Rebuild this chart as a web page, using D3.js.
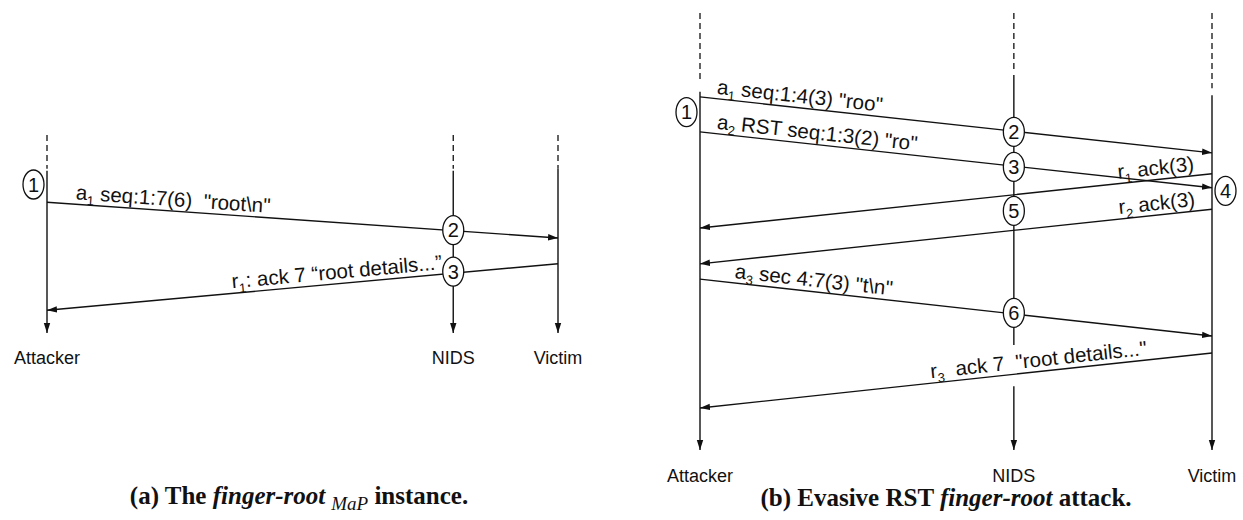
<!DOCTYPE html>
<html>
<head>
<meta charset="utf-8">
<script src="https://cdn.jsdelivr.net/npm/d3@7"></script>
<style>
  body { margin: 0; background: #fff; }
  svg { display: block; }
  .msg text, .actor, .event text { font-family: "Liberation Sans", Arial, sans-serif; fill: #111; }
  .caption { font-family: "Liberation Serif", "Times New Roman", serif; font-weight: bold; font-size: 25px; fill: #111; }
</style>
</head>
<body>
<div id="chart"></div>
<script>
var actors = ['Attacker', 'NIDS', 'Victim'];

// where each host sits on the path (0 = attacker, 1 = victim)
var hopsA = [0, 0.795, 1];
var hopsB = [0, 0.613, 1];

// lifeline pieces, in time units 0..100 (top to bottom)
var dashedA = [[0, 17], [0, 17], [0, 17]];
var solidA = [[[18, 100]], [[18, 100]], [[17, 100]]];
var dashedB = [[0, 15.3], [0, 13.5], [0, 17.2]];
var solidB = [[[18, 100]], [[14.2, 76], [85.4, 100]], [[18.8, 100]]];

// messages: send time t0, receive time t1, label placed at hop position 'at'
var messagesA = [
    {from: 'Attacker', to: 'Victim', t0: 34, t1: 52, at: 0.055, label: ['a', '1', ' seq:1:7(6)  "root\\n"']},
    {from: 'Victim', to: 'Attacker', t0: 65, t1: 88.5, at: 0.775, label: ['r', '1', ': ack 7 \u201croot details...\u201d']}
];
var messagesB = [
    {from: 'Attacker', to: 'Victim', t0: 19.2, t1: 32, at: 0.031, label: ['a', '1', ' seq:1:4(3) "roo"']},
    {from: 'Attacker', to: 'Victim', t0: 27.2, t1: 40, at: 0.031, label: ['a', '2', ' RST seq:1:3(2) "ro"']},
    {from: 'Victim', to: 'Attacker', t0: 36.8, t1: 49.2, at: 0.967, label: ['r', '1', ' ack(3)']},
    {from: 'Victim', to: 'Attacker', t0: 44.9, t1: 57.4, at: 0.969, label: ['r', '2', ' ack(3)']},
    {from: 'Attacker', to: 'Victim', t0: 60.9, t1: 73.9, at: 0.066, label: ['a', '3', ' sec 4:7(3) "t\\n"']},
    {from: 'Victim', to: 'Attacker', t0: 77.8, t1: 90.4, at: 0.875, label: ['r', '3', '  ack 7  "root details..."']}
];

// numbered events, side -1 = left of lifeline, 1 = right, 0 = on it
var eventsA = [
    {n: 1, host: 'Attacker', t: 25, side: -1},
    {n: 2, host: 'NIDS', t: 48, side: 0},
    {n: 3, host: 'NIDS', t: 69, side: 0}
];
var eventsB = [
    {n: 1, host: 'Attacker', t: 22.7, side: -1},
    {n: 2, host: 'NIDS', t: 27.2, side: 0},
    {n: 3, host: 'NIDS', t: 35.2, side: 0},
    {n: 4, host: 'Victim', t: 40.7, side: 1},
    {n: 5, host: 'NIDS', t: 45.3, side: 0},
    {n: 6, host: 'NIDS', t: 68.6, side: 0}
];

var width = 1243;
var height = 520;
var rx = 10.5;
var ry = 14.5;

var svg = d3.select('#chart').append('svg')
    .attr('width', width)
    .attr('height', height);

svg.append('defs').append('marker')
    .attr('id', 'arrow')
    .attr('viewBox', '0 -4 10 8')
    .attr('refX', 10)
    .attr('refY', 0)
    .attr('markerUnits', 'userSpaceOnUse')
    .attr('markerWidth', 10)
    .attr('markerHeight', 8)
    .attr('orient', 'auto')
    .append('path')
    .attr('d', 'M0,-3.2L10,0L0,3.2Z')
    .attr('fill', '#111');

function drawPanel(cfg, hops, dashed, solid, messages, events) {
    var x = d3.scaleLinear().domain([0, 1]).range(cfg.x);
    var y = d3.scaleLinear().domain([0, 100]).range(cfg.y);
    var hostX = name => x(hops[actors.indexOf(name)]);
    var g = svg.append('g');

    // lifelines
    actors.forEach((a, i) => {
        g.append('line')
            .attr('x1', x(hops[i])).attr('x2', x(hops[i]))
            .attr('y1', y(dashed[i][0])).attr('y2', y(dashed[i][1]))
            .attr('stroke', '#111').attr('stroke-width', 1.3)
            .attr('stroke-dasharray', '6,4');
        solid[i].forEach(s => {
            g.append('line')
                .attr('x1', x(hops[i])).attr('x2', x(hops[i]))
                .attr('y1', y(s[0])).attr('y2', y(s[1]))
                .attr('stroke', '#111').attr('stroke-width', 1.4)
                .attr('marker-end', s[1] === 100 ? 'url(#arrow)' : null);
        });
    });

    // messages
    var msg = g.selectAll('g.msg').data(messages).enter().append('g').attr('class', 'msg');

    msg.append('line')
        .attr('x1', d => hostX(d.from))
        .attr('y1', d => y(d.t0))
        .attr('x2', d => hostX(d.to))
        .attr('y2', d => y(d.t1))
        .attr('stroke', '#111')
        .attr('stroke-width', 1.4)
        .attr('marker-end', 'url(#arrow)');

    var lab = msg.append('text')
        .attr('transform', d => {
            var x1 = hostX(d.from), x2 = hostX(d.to);
            var y1 = y(d.t0), y2 = y(d.t1);
            var lx = x(d.at);
            var ly = y1 + (lx - x1) / (x2 - x1) * (y2 - y1);
            var ang = x2 > x1 ? Math.atan2(y2 - y1, x2 - x1) : Math.atan2(y1 - y2, x1 - x2);
            return `translate(${lx},${ly})rotate(${ang * 180 / Math.PI})`;
        })
        .attr('y', -5)
        .attr('font-size', 20.5)
        .attr('text-anchor', d => d.from === 'Attacker' ? 'start' : 'end')
        .style('white-space', 'pre');
    lab.append('tspan').text(d => d.label[0]);
    lab.append('tspan').attr('font-size', 13).attr('dy', 5).text(d => d.label[1]);
    lab.append('tspan').attr('dy', -5).text(d => d.label[2]);

    // events
    var ev = g.selectAll('g.event').data(events).enter().append('g')
        .attr('class', 'event')
        .attr('transform', d => `translate(${hostX(d.host) + d.side * (rx + 3)},${y(d.t)})`);

    ev.append('ellipse')
        .attr('rx', rx)
        .attr('ry', ry)
        .attr('fill', '#fff')
        .attr('stroke', '#111')
        .attr('stroke-width', 1.3);

    ev.append('text')
        .attr('text-anchor', 'middle')
        .attr('dy', '0.36em')
        .attr('font-size', 20)
        .text(d => d.n);

    // host names
    g.selectAll('text.actor').data(actors).enter().append('text')
        .attr('class', 'actor')
        .attr('x', (d, i) => x(hops[i]))
        .attr('y', cfg.labelY)
        .attr('text-anchor', 'middle')
        .attr('font-size', 18)
        .text(d => d);

    // caption
    var cap = g.append('text')
        .attr('class', 'caption')
        .attr('x', cfg.capX)
        .attr('y', cfg.capY)
        .attr('text-anchor', 'middle')
        .style('white-space', 'pre');
    cfg.caption.forEach(p => {
        var t = cap.append('tspan').text(p.t);
        if (p.it) t.attr('font-style', 'italic');
        if (p.sub) t.attr('font-weight', 'normal').attr('font-size', 19).attr('dx', 6).attr('dy', 6);
        if (p.up) t.attr('dy', -6);
    });
}

drawPanel({x: [47, 558], y: [135, 333], labelY: 364, capX: 299, capY: 504,
    caption: [{t: '(a) The '}, {t: 'finger-root', it: true}, {t: 'MaP', it: true, sub: true}, {t: ' instance.', up: true}]},
    hopsA, dashedA, solidA, messagesA, eventsA);

drawPanel({x: [700, 1212], y: [13, 450], labelY: 482, capX: 946, capY: 506,
    caption: [{t: '(b) Evasive RST '}, {t: 'finger-root', it: true}, {t: ' attack.'}]},
    hopsB, dashedB, solidB, messagesB, eventsB);
</script>
</body>
</html>
